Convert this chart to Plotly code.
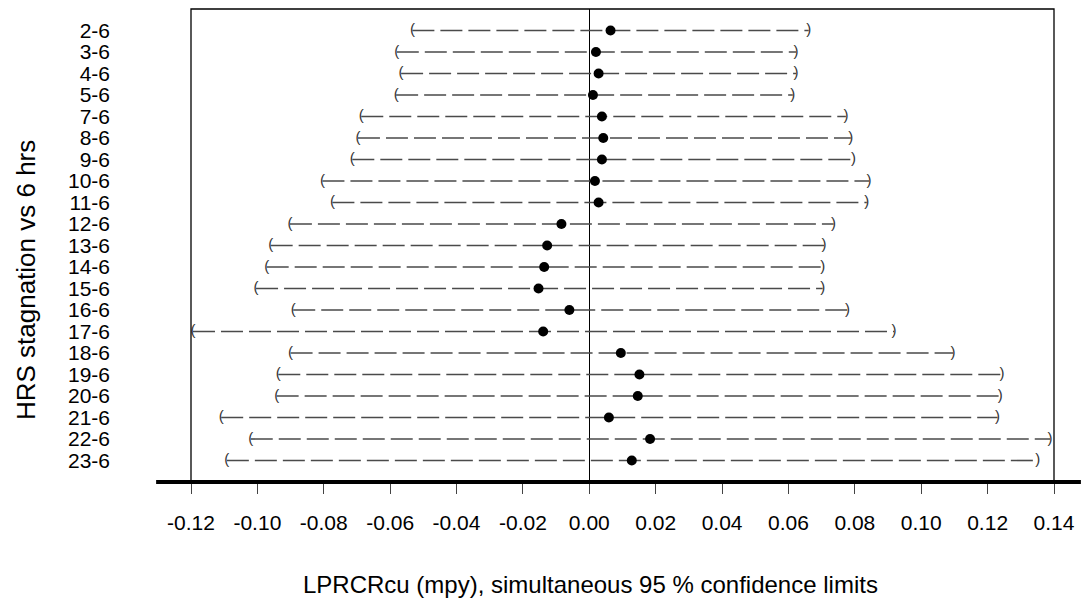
import plotly.graph_objects as go

labels = ["2-6", "3-6", "4-6", "5-6", "7-6", "8-6", "9-6", "10-6", "11-6", "12-6",
          "13-6", "14-6", "15-6", "16-6", "17-6", "18-6", "19-6", "20-6", "21-6", "22-6", "23-6"]
estimate = [0.0064, 0.0020, 0.0028, 0.0011, 0.0038, 0.0042, 0.0038, 0.0017, 0.0028, -0.0084,
            -0.0127, -0.0136, -0.0153, -0.0060, -0.0139, 0.0095, 0.0151, 0.0146, 0.0059, 0.0183, 0.0128]
lower = [-0.0533, -0.0580, -0.0567, -0.0582, -0.0687, -0.0697, -0.0714, -0.0804, -0.0774, -0.0902,
         -0.0960, -0.0972, -0.1004, -0.0892, -0.1194, -0.0900, -0.0937, -0.0942, -0.1109, -0.1020, -0.1092]
upper = [0.0661, 0.0623, 0.0623, 0.0613, 0.0773, 0.0788, 0.0796, 0.0843, 0.0836, 0.0736,
         0.0707, 0.0703, 0.0703, 0.0778, 0.0918, 0.1096, 0.1243, 0.1238, 0.1230, 0.1388, 0.1351]
xticks = [-0.12, -0.10, -0.08, -0.06, -0.04, -0.02, 0.00, 0.02, 0.04, 0.06, 0.08, 0.10, 0.12, 0.14]
xtick_text = ["-0.12", "-0.10", "-0.08", "-0.06", "-0.04", "-0.02", "0.00",
              "0.02", "0.04", "0.06", "0.08", "0.10", "0.12", "0.14"]

FONT = "Liberation Sans, Arial, sans-serif"
fig = go.Figure()

for lab, lo, hi in zip(labels, lower, upper):
    fig.add_trace(go.Scatter(
        x=[lo, hi], y=[lab, lab], mode="lines",
        line=dict(color="#4a4a4a", width=1.6, dash="22px,6px"),
        hoverinfo="skip", showlegend=False))

fig.add_trace(go.Scatter(
    x=lower, y=labels, mode="text", text=["("] * len(labels),
    textposition="middle center", textfont=dict(family=FONT, size=15, color="#333333"),
    hoverinfo="skip", showlegend=False))
fig.add_trace(go.Scatter(
    x=upper, y=labels, mode="text", text=[")"] * len(labels),
    textposition="middle center", textfont=dict(family=FONT, size=15, color="#333333"),
    hoverinfo="skip", showlegend=False))

fig.add_trace(go.Scatter(
    x=estimate, y=labels, mode="markers",
    marker=dict(color="black", size=10, symbol="circle"),
    showlegend=False))

L, R, T, B = 191, 27, 9, 125
W, H = 1084, 607
pw = W - L - R

fig.update_layout(
    width=W, height=H,
    margin=dict(l=L, r=R, t=T, b=B, pad=0),
    paper_bgcolor="white", plot_bgcolor="white",
    font=dict(family=FONT, color="black"),
    xaxis=dict(range=[-0.12, 0.14], tickvals=xticks, ticktext=xtick_text,
               ticks="outside", ticklen=11, tickwidth=1.2, tickcolor="#444444",
               tickfont=dict(size=21, family=FONT, color="black"),
               ticklabelstandoff=11,
               showgrid=False, zeroline=True, zerolinecolor="black", zerolinewidth=1.3,
               showline=False),
    yaxis=dict(type="category", categoryorder="array", categoryarray=labels,
               tickmode="array", tickvals=labels, ticktext=labels,
               range=[21, -1], ticks="", showgrid=False, zeroline=False, showline=False,
               tickfont=dict(size=21, family=FONT, color="black"),
               ticklabelstandoff=80),
    shapes=[
        dict(type="rect", xref="paper", yref="paper", x0=0, x1=1, y0=0, y1=1,
             line=dict(color="black", width=1.3), layer="above"),
        dict(type="line", xref="paper", yref="paper", x0=(156 - L) / pw, x1=(W - L) / pw,
             y0=0, y1=0, line=dict(color="black", width=4), layer="above"),
    ],
    annotations=[
        dict(text="LPRCRcu (mpy), simultaneous 95 % confidence limits",
             xref="paper", yref="paper", x=(592 - L) / pw, y=-(584 - (H - B)) / (H - T - B),
             xanchor="center", yanchor="middle", showarrow=False,
             font=dict(size=24, family=FONT, color="black")),
        dict(text="HRS stagnation vs 6 hrs", textangle=-90,
             xref="paper", yref="paper", x=(25 - L) / pw, y=((H - B) - 280.5) / (H - T - B),
             xanchor="center", yanchor="middle", showarrow=False,
             font=dict(size=26, family=FONT, color="black")),
    ],
)

fig.write_html("out.html")
